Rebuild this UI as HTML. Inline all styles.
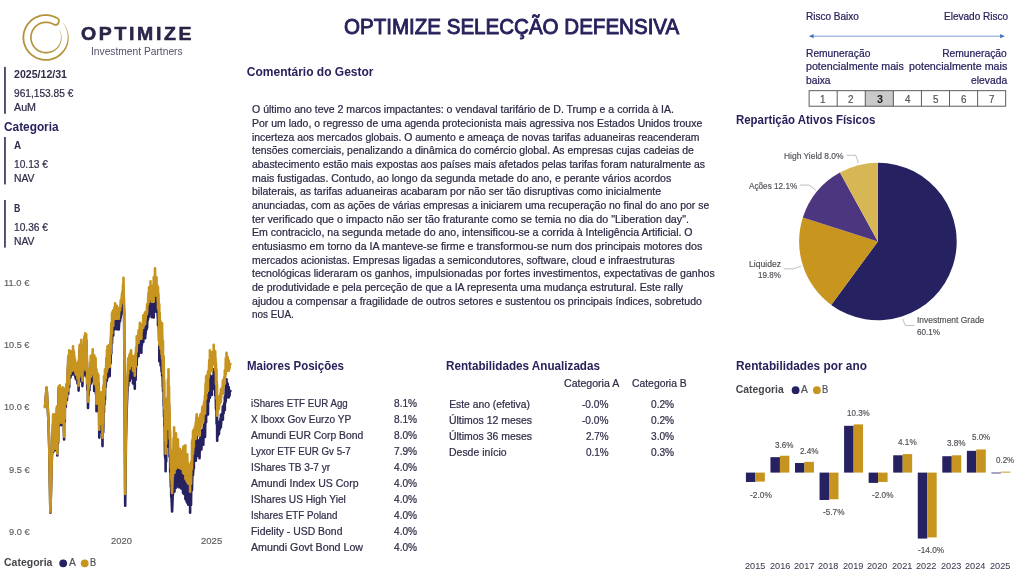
<!DOCTYPE html>
<html lang="pt">
<head>
<meta charset="utf-8">
<title>OPTIMIZE SELECÇÃO DEFENSIVA</title>
<style>
html,body{margin:0;padding:0;background:#fff;}
body{width:1024px;height:584px;position:relative;overflow:hidden;font-family:"Liberation Sans", sans-serif;}
.t{position:absolute;white-space:pre;line-height:1;transform-origin:0 0;display:block;}
.grp{position:absolute;left:0;top:0;width:1024px;height:584px;will-change:transform;}
.abs{position:absolute;}
svg{position:absolute;left:0;top:0;overflow:visible;}
</style>
</head>
<body>
<svg width="1024" height="584" viewBox="0 0 1024 584">
<g id="logo-mark"><path d="M56.74,16.93 L55.37,16.26 L53.96,15.67 L52.51,15.19 L51.03,14.80 L49.53,14.50 L48.02,14.31 L46.50,14.21 L44.97,14.21 L43.45,14.32 L41.93,14.52 L40.44,14.83 L38.96,15.23 L37.52,15.72 L36.11,16.31 L34.74,16.99 L33.42,17.76 L32.16,18.61 L30.95,19.55 L29.80,20.56 L28.73,21.64 L27.73,22.79 L26.80,24.01 L25.96,25.28 L25.20,26.61 L24.53,27.98 L23.96,29.40 L23.47,30.84 L23.08,32.32 L22.79,33.82 L22.60,35.33 L22.51,36.86 L22.52,38.39 L22.62,39.91 L22.83,41.42 L23.14,42.92 L23.54,44.39 L24.04,45.83 L24.63,47.24 L25.32,48.61 L26.09,49.92 L26.94,51.19 L27.88,52.39 L28.90,53.54 L29.98,54.61 L31.14,55.61 L32.35,56.53 L33.63,57.37 L34.96,58.12 L36.33,58.79 L37.75,59.36 L39.20,59.84 L40.67,60.23 L42.17,60.52 L43.69,60.70 L45.21,60.79 L46.74,60.78 L48.26,60.67 L49.77,60.46 L51.27,60.15 L52.74,59.74 L54.18,59.24 L55.59,58.64 L56.95,57.96 L58.27,57.18 L59.53,56.32 L60.74,55.38 L61.87,54.37 L62.94,53.28 L63.92,52.11 L64.81,50.87 L65.62,49.58 L66.33,48.23 L66.96,46.85 L67.49,45.43 L67.93,43.99 L68.27,42.51 L68.52,41.03 L68.67,39.53 L68.71,38.02 L68.66,36.52 L68.51,35.03 L68.27,33.56 L67.93,32.10 L67.49,30.67 L66.96,29.28 L66.35,27.93 L65.65,26.62 L64.86,25.36 L64.00,24.16 L63.06,23.02 L62.86,23.18 L63.74,24.35 L64.53,25.57 L65.24,26.84 L65.86,28.15 L66.40,29.50 L66.84,30.88 L67.20,32.28 L67.46,33.70 L67.62,35.13 L67.70,36.57 L67.67,38.00 L67.56,39.43 L67.35,40.84 L67.05,42.24 L66.66,43.61 L66.18,44.95 L65.62,46.26 L64.97,47.52 L64.24,48.74 L63.43,49.90 L62.56,51.00 L61.62,52.06 L60.63,53.06 L59.58,54.00 L58.47,54.87 L57.31,55.66 L56.09,56.38 L54.83,57.01 L53.54,57.56 L52.21,58.02 L50.85,58.40 L49.47,58.68 L48.07,58.88 L46.67,58.98 L45.26,58.99 L43.85,58.91 L42.45,58.74 L41.07,58.47 L39.71,58.12 L38.37,57.67 L37.06,57.14 L35.79,56.53 L34.57,55.83 L33.39,55.06 L32.27,54.21 L31.20,53.29 L30.20,52.30 L29.27,51.24 L28.40,50.13 L27.61,48.96 L26.90,47.75 L26.27,46.49 L25.72,45.19 L25.26,43.86 L24.89,42.50 L24.61,41.12 L24.42,39.72 L24.32,38.32 L24.31,36.91 L24.39,35.50 L24.57,34.10 L24.84,32.72 L25.20,31.36 L25.64,30.02 L26.18,28.72 L26.79,27.45 L27.49,26.23 L28.27,25.05 L29.12,23.93 L30.05,22.87 L31.04,21.87 L32.10,20.93 L33.21,20.07 L34.38,19.28 L35.60,18.58 L36.86,17.95 L38.16,17.40 L39.49,16.95 L40.85,16.58 L42.23,16.30 L43.63,16.11 L45.03,16.01 L46.44,16.01 L47.85,16.10 L49.25,16.28 L50.63,16.55 L51.99,16.91 L53.33,17.36 L54.63,17.90 L55.89,18.52Z" fill="#B5933A"/><path d="M54.83,24.06 L53.94,23.53 L53.02,23.05 L52.08,22.63 L51.11,22.28 L50.11,21.99 L49.10,21.76 L48.08,21.60 L47.05,21.50 L46.02,21.48 L44.98,21.51 L43.95,21.62 L42.93,21.79 L41.93,22.03 L40.94,22.33 L39.97,22.69 L39.02,23.12 L38.11,23.61 L37.23,24.15 L36.39,24.75 L35.59,25.41 L34.83,26.11 L34.12,26.86 L33.45,27.66 L32.85,28.49 L32.29,29.37 L31.80,30.27 L31.36,31.21 L30.98,32.18 L30.67,33.16 L30.43,34.17 L30.24,35.19 L30.13,36.21 L30.08,37.25 L30.09,38.28 L30.18,39.31 L30.33,40.34 L30.54,41.35 L30.83,42.35 L31.17,43.32 L31.58,44.27 L32.04,45.20 L32.57,46.09 L33.15,46.94 L33.79,47.76 L34.48,48.53 L35.21,49.26 L35.99,49.94 L36.82,50.56 L37.68,51.13 L38.58,51.65 L39.51,52.11 L40.46,52.50 L41.44,52.83 L42.44,53.10 L43.46,53.31 L44.48,53.44 L45.51,53.51 L46.55,53.52 L47.58,53.46 L48.60,53.31 L49.61,53.10 L50.61,52.82 L51.58,52.47 L52.52,52.07 L53.44,51.60 L54.32,51.08 L55.17,50.50 L55.97,49.87 L56.74,49.19 L57.45,48.46 L58.12,47.69 L58.73,46.88 L59.29,46.04 L59.80,45.16 L60.24,44.25 L60.63,43.31 L60.95,42.35 L61.21,41.38 L61.41,40.39 L61.54,39.40 L61.61,38.39 L61.61,37.39 L61.55,36.39 L61.42,35.40 L61.23,34.42 L60.98,33.46 L60.66,32.51 L60.29,31.59 L59.86,30.70 L59.37,29.84 L59.16,29.96 L59.59,30.83 L59.98,31.72 L60.30,32.64 L60.56,33.57 L60.76,34.52 L60.90,35.47 L60.98,36.43 L60.99,37.40 L60.94,38.36 L60.84,39.31 L60.67,40.25 L60.44,41.18 L60.15,42.09 L59.80,42.98 L59.40,43.84 L58.94,44.68 L58.43,45.48 L57.87,46.24 L57.27,46.97 L56.61,47.65 L55.92,48.29 L55.19,48.89 L54.42,49.43 L53.62,49.93 L52.80,50.36 L51.94,50.75 L51.07,51.08 L50.18,51.35 L49.27,51.56 L48.35,51.71 L47.43,51.81 L46.50,51.87 L45.57,51.87 L44.65,51.80 L43.73,51.68 L42.82,51.50 L41.92,51.25 L41.04,50.96 L40.18,50.60 L39.35,50.19 L38.55,49.73 L37.77,49.22 L37.03,48.66 L36.33,48.05 L35.67,47.40 L35.06,46.70 L34.49,45.97 L33.96,45.20 L33.49,44.40 L33.07,43.58 L32.71,42.72 L32.40,41.85 L32.15,40.95 L31.95,40.05 L31.82,39.13 L31.74,38.20 L31.73,37.27 L31.77,36.35 L31.88,35.42 L32.04,34.51 L32.26,33.61 L32.54,32.73 L32.88,31.86 L33.27,31.02 L33.71,30.20 L34.21,29.42 L34.76,28.67 L35.35,27.96 L35.99,27.28 L36.67,26.65 L37.39,26.07 L38.14,25.53 L38.93,25.04 L39.75,24.60 L40.60,24.22 L41.47,23.89 L42.36,23.62 L43.26,23.41 L44.17,23.25 L45.10,23.16 L46.02,23.13 L46.95,23.15 L47.88,23.24 L48.79,23.38 L49.70,23.58 L50.59,23.84 L51.46,24.16 L52.31,24.54 L53.13,24.96 L53.93,25.44Z" fill="#B5933A"/><path d="M56.32,17.72 A3.65,3.65 0 0 1 54.38,24.75" fill="none" stroke="#B5933A" stroke-width="1.75" stroke-linecap="round"/></g>
<rect x="4.1" y="66.9" width="1.7" height="46.9" fill="#3A3958"/>
<rect x="4.1" y="137.0" width="1.7" height="47.4" fill="#3A3958"/>
<rect x="4.1" y="200.0" width="1.7" height="47.6" fill="#3A3958"/>
<g fill="none" stroke-linejoin="round" stroke-linecap="round" stroke-width="2.6"><path d="M45.00,407.0 L45.62,399.5 L46.24,392.1 L46.60,387.7 L46.86,392.3 L47.48,403.3 L47.60,405.4 L48.10,414.8 L48.40,420.5 L48.72,430.5 L49.20,445.6 L49.34,453.8 L49.80,480.7 L49.96,489.3 L50.40,512.8 L50.58,506.2 L51.00,490.9 L51.20,482.6 L51.60,466.0 L51.82,459.2 L52.30,446.8 L52.30,442.4 L52.44,444.2 L53.06,423.7 L53.20,451.9 L53.20,415.5 L53.68,448.9 L54.30,417.0 L54.92,439.5 L55.00,415.8 L55.00,450.2 L55.54,420.4 L56.16,447.9 L56.40,448.4 L56.78,416.2 L57.00,408.0 L57.30,455.5 L57.40,409.6 L58.02,443.2 L58.20,440.6 L58.64,390.7 L58.80,388.3 L59.00,425.7 L59.26,397.4 L59.80,387.5 L59.88,413.1 L60.50,421.0 L60.70,395.6 L61.12,414.6 L61.50,425.1 L61.70,399.7 L61.74,413.3 L62.30,411.2 L62.36,394.3 L62.60,389.9 L62.98,414.3 L63.00,416.3 L63.50,391.0 L63.60,416.7 L64.10,439.5 L64.22,402.3 L64.40,396.1 L64.80,421.6 L64.84,400.2 L65.40,394.3 L65.46,407.3 L65.80,406.7 L66.08,391.7 L66.30,387.4 L66.70,395.1 L67.00,399.9 L67.30,379.5 L67.32,391.1 L67.94,367.3 L68.20,394.1 L68.20,359.7 L68.56,387.3 L69.18,358.2 L69.20,387.2 L69.20,353.8 L69.80,374.9 L70.42,358.8 L70.50,377.4 L71.00,355.1 L71.04,371.7 L71.66,355.5 L72.00,374.6 L72.28,357.3 L72.90,370.3 L73.00,350.4 L73.50,371.9 L73.52,354.9 L74.00,356.5 L74.14,371.1 L74.50,375.0 L74.76,364.1 L75.00,363.7 L75.38,376.8 L76.00,379.2 L76.62,370.6 L76.70,367.9 L77.24,378.3 L77.50,383.4 L77.86,372.4 L78.48,381.5 L78.50,366.2 L78.60,390.6 L79.10,360.3 L79.50,381.7 L79.50,350.3 L79.72,378.4 L80.34,349.5 L80.96,373.1 L81.00,379.9 L81.40,345.1 L81.58,368.5 L82.20,356.8 L82.40,386.1 L82.82,359.7 L83.30,376.3 L83.30,355.9 L83.44,372.4 L84.06,354.0 L84.40,342.0 L84.68,365.6 L85.00,374.5 L85.20,339.2 L85.30,370.6 L85.92,346.4 L86.20,340.3 L86.50,376.7 L86.54,355.6 L87.00,365.4 L87.16,382.9 L87.30,389.9 L87.78,377.7 L88.00,408.0 L88.40,380.5 L88.70,395.1 L89.00,375.7 L89.02,389.4 L89.50,390.2 L89.64,374.7 L90.26,379.1 L90.80,362.5 L90.88,381.3 L91.00,383.4 L91.50,364.5 L92.12,380.9 L92.70,356.2 L92.70,379.6 L92.74,362.2 L93.36,377.3 L93.98,364.8 L94.20,390.9 L94.20,362.5 L94.60,384.2 L95.00,384.0 L95.22,364.9 L95.60,365.7 L95.84,387.4 L96.00,394.1 L96.46,378.0 L96.50,411.2 L96.50,376.8 L97.08,395.1 L97.30,401.3 L97.70,381.2 L98.32,405.6 L98.40,383.1 L98.40,408.5 L98.94,395.2 L99.30,437.6 L99.30,401.2 L99.56,422.5 L100.00,421.7 L100.18,403.5 L100.80,427.1 L101.20,400.5 L101.20,431.9 L101.42,402.2 L102.04,432.9 L102.20,404.6 L102.50,446.1 L102.66,407.5 L103.20,432.2 L103.20,395.8 L103.28,428.5 L103.90,393.3 L104.00,412.3 L104.00,384.9 L104.52,404.3 L105.00,378.0 L105.00,399.4 L105.14,378.4 L105.76,386.9 L106.38,366.7 L106.90,380.7 L106.90,359.3 L107.00,379.3 L107.50,355.4 L107.62,377.6 L108.24,355.8 L108.70,374.0 L108.70,354.6 L108.86,367.9 L109.48,357.0 L109.60,355.7 L109.70,376.1 L110.10,353.5 L110.60,363.3 L110.60,348.9 L110.72,358.4 L111.30,333.0 L111.30,353.4 L111.34,336.0 L111.96,338.0 L112.00,323.1 L112.00,343.5 L112.58,321.7 L113.20,335.6 L113.20,320.2 L113.82,329.9 L114.44,317.6 L115.06,326.4 L115.10,313.5 L115.10,328.9 L115.68,318.6 L116.30,327.4 L116.90,316.3 L116.90,329.2 L116.92,318.3 L117.54,327.4 L118.16,320.4 L118.78,325.5 L118.80,319.0 L118.80,329.4 L119.40,319.1 L120.02,321.2 L120.64,313.3 L120.70,317.7 L120.70,311.3 L121.26,315.0 L121.88,306.1 L122.20,311.9 L122.20,303.5 L122.50,308.8 L123.00,296.7 L123.00,310.1 L123.12,295.3 L123.50,300.1 L123.50,289.2 L123.74,305.1 L124.10,312.8 L124.10,315.2 L124.36,354.4 L124.60,391.6 L124.98,463.8 L125.20,505.7 L125.60,469.2 L125.90,441.8 L126.22,428.1 L126.60,411.9 L126.84,405.7 L127.30,394.7 L127.30,393.3 L127.46,391.6 L128.08,373.5 L128.20,385.8 L128.20,370.4 L128.70,379.1 L129.32,368.0 L129.70,381.0 L129.70,366.6 L129.94,376.8 L130.56,364.4 L131.10,378.2 L131.10,362.8 L131.18,377.7 L131.80,367.9 L132.42,376.9 L133.00,369.1 L133.00,383.5 L133.04,370.2 L133.66,381.2 L134.28,371.3 L134.80,388.8 L134.80,369.4 L134.90,380.9 L135.52,366.7 L135.60,379.9 L136.14,360.6 L136.70,365.1 L136.70,349.7 L136.76,361.5 L137.38,349.7 L138.00,354.2 L138.60,343.9 L138.60,356.3 L138.62,344.2 L139.24,350.7 L139.86,338.1 L139.90,352.5 L139.90,336.6 L140.48,351.6 L141.10,340.2 L141.40,352.7 L141.40,340.3 L141.72,346.1 L142.34,338.6 L142.96,341.6 L143.30,329.6 L143.30,342.0 L143.58,329.8 L144.20,338.1 L144.82,327.5 L145.20,338.3 L145.20,326.9 L145.44,334.9 L146.06,326.3 L146.68,329.4 L147.10,319.2 L147.10,327.6 L147.30,319.3 L147.92,319.7 L148.54,307.9 L149.00,316.8 L149.00,302.4 L149.16,311.6 L149.78,303.1 L150.40,311.0 L150.50,296.7 L150.50,314.1 L151.02,302.9 L151.64,312.9 L151.80,302.9 L151.80,317.3 L152.26,301.6 L152.88,315.9 L153.50,301.1 L153.70,317.5 L153.70,293.1 L154.12,312.0 L154.74,291.2 L155.00,304.7 L155.00,284.3 L155.36,305.0 L155.98,294.6 L156.50,311.9 L156.50,293.5 L156.60,307.1 L157.22,301.5 L157.84,318.3 L158.00,303.8 L158.00,325.2 L158.46,310.1 L159.08,340.8 L159.30,320.9 L159.30,361.3 L159.70,329.3 L160.32,355.7 L160.60,338.1 L160.60,365.5 L160.94,344.7 L161.56,371.5 L162.10,340.4 L162.10,375.8 L162.18,346.7 L162.80,386.7 L163.00,358.5 L163.00,390.9 L163.42,377.1 L163.70,406.0 L163.70,373.6 L164.04,416.8 L164.30,398.7 L164.30,426.1 L164.66,421.7 L165.00,456.2 L165.00,438.8 L165.28,458.5 L165.60,458.9 L165.60,471.3 L165.90,443.1 L166.20,461.4 L166.20,424.0 L166.52,445.8 L167.14,420.0 L167.30,446.5 L167.30,417.1 L167.76,426.8 L167.90,397.2 L167.90,426.6 L168.38,397.2 L168.50,416.7 L168.50,387.3 L169.00,436.8 L169.00,404.4 L169.60,456.8 L169.60,429.4 L169.62,455.6 L170.20,449.5 L170.20,471.9 L170.24,454.2 L170.86,486.6 L171.20,487.7 L171.20,497.1 L171.48,496.9 L172.10,511.5 L172.72,494.5 L172.90,479.9 L172.90,495.3 L173.34,468.9 L173.50,491.4 L173.50,457.0 L173.96,489.9 L174.10,446.1 L174.50,491.6 L174.58,457.9 L175.20,485.8 L175.82,457.0 L176.00,487.8 L176.00,452.4 L176.44,476.6 L177.06,463.4 L177.68,479.5 L177.90,458.7 L178.30,485.2 L178.80,487.2 L178.92,470.7 L179.54,482.7 L179.80,468.4 L180.16,483.5 L180.78,475.3 L181.00,488.5 L181.40,475.1 L181.70,471.7 L182.02,484.1 L182.64,469.9 L183.00,492.8 L183.26,468.4 L183.50,466.5 L183.88,494.0 L184.50,473.5 L185.12,487.3 L185.40,465.7 L185.40,499.1 L185.74,475.4 L186.36,500.8 L186.98,479.2 L187.00,502.4 L187.30,475.0 L187.60,496.5 L188.20,504.6 L188.22,484.1 L188.84,499.0 L189.20,485.3 L189.46,501.7 L190.08,501.7 L190.10,512.8 L190.10,497.4 L190.70,505.2 L191.00,487.6 L191.00,505.0 L191.32,482.9 L191.94,490.3 L192.00,462.7 L192.00,490.1 L192.56,460.4 L193.00,475.3 L193.00,452.9 L193.18,472.8 L193.80,455.6 L193.90,468.4 L193.90,451.0 L194.42,460.9 L195.04,448.2 L195.66,456.6 L195.80,444.3 L195.80,460.7 L196.28,441.5 L196.70,436.4 L196.90,454.5 L197.52,440.0 L197.70,455.9 L198.14,442.4 L198.60,441.7 L198.76,451.7 L199.38,444.7 L199.50,458.2 L200.00,440.1 L200.50,436.9 L200.62,449.5 L201.24,436.9 L201.40,449.5 L201.86,436.3 L202.40,429.7 L202.48,442.8 L203.10,432.6 L203.30,444.8 L203.72,428.6 L204.30,424.5 L204.34,437.0 L204.96,418.8 L205.00,437.0 L205.58,407.0 L206.10,422.2 L206.10,399.8 L206.20,416.8 L206.82,399.1 L207.44,408.6 L208.00,395.0 L208.00,414.4 L208.06,399.1 L208.68,401.6 L209.30,384.0 L209.90,397.7 L209.90,374.3 L209.92,395.1 L210.54,378.7 L211.16,390.5 L211.78,379.4 L211.80,395.0 L211.80,376.6 L212.40,389.6 L213.02,376.4 L213.64,381.7 L213.70,369.4 L213.70,388.3 L214.26,375.1 L214.88,388.1 L215.20,376.1 L215.20,395.5 L215.50,382.3 L216.00,408.6 L216.00,388.2 L216.12,409.6 L216.50,394.3 L216.60,423.7 L216.74,406.3 L217.00,411.3 L217.20,440.8 L217.20,426.4 L217.36,436.9 L217.80,421.5 L217.80,435.9 L217.98,424.9 L218.60,434.2 L219.00,423.6 L219.00,434.0 L219.22,424.0 L219.84,429.3 L220.46,418.7 L220.90,427.3 L220.90,414.9 L221.08,424.2 L221.70,414.1 L222.32,419.0 L222.90,406.2 L222.90,419.6 L222.94,408.1 L223.56,413.4 L224.18,403.4 L224.80,409.9 L224.80,396.5 L225.42,402.6 L225.80,384.6 L225.80,401.0 L226.04,387.0 L226.50,395.1 L226.50,379.2 L226.66,395.1 L227.28,383.4 L227.70,397.3 L227.70,383.9 L227.90,395.1 L228.52,389.6 L228.70,397.5 L228.70,387.1 L229.14,396.0 L229.50,391.2 L229.50,395.6 L229.76,391.6 L230.38,391.1 L230.40,391.0" stroke="#262160"/><path d="M45.00,407.0 L45.62,399.4 L46.24,391.9 L46.60,387.5 L46.86,392.0 L47.48,402.9 L47.60,405.0 L48.10,414.4 L48.40,420.0 L48.72,430.0 L49.20,445.0 L49.34,453.2 L49.80,480.0 L49.96,488.5 L50.40,512.0 L50.58,505.4 L51.00,490.0 L51.20,481.7 L51.60,465.0 L51.82,458.2 L52.30,445.7 L52.30,441.3 L52.44,443.1 L53.06,422.5 L53.20,450.7 L53.20,414.3 L53.68,447.7 L54.30,415.6 L54.92,438.1 L55.00,414.3 L55.00,448.7 L55.54,418.9 L56.16,446.3 L56.40,446.7 L56.78,414.5 L57.00,406.3 L57.30,453.7 L57.40,407.8 L58.02,441.3 L58.20,438.7 L58.64,388.7 L58.80,386.3 L59.00,423.7 L59.26,395.4 L59.80,385.3 L59.88,410.9 L60.50,418.7 L60.70,393.3 L61.12,412.2 L61.50,422.7 L61.70,397.3 L61.74,410.9 L62.30,408.7 L62.36,391.7 L62.60,387.3 L62.98,411.7 L63.00,413.7 L63.50,388.3 L63.60,414.0 L64.10,436.7 L64.22,399.5 L64.40,393.3 L64.80,418.7 L64.84,397.3 L65.40,391.3 L65.46,404.3 L65.80,403.7 L66.08,388.6 L66.30,384.3 L66.70,391.9 L67.00,396.7 L67.30,376.3 L67.32,387.9 L67.94,363.9 L68.20,390.7 L68.20,356.3 L68.56,383.8 L69.18,354.7 L69.20,383.7 L69.20,350.3 L69.80,371.3 L70.42,355.1 L70.50,373.7 L71.00,351.3 L71.04,367.9 L71.66,351.6 L72.00,370.7 L72.28,353.4 L72.90,366.2 L73.00,346.3 L73.50,367.7 L73.52,350.8 L74.00,352.3 L74.14,366.8 L74.50,370.7 L74.76,359.8 L75.00,359.3 L75.38,372.4 L76.00,374.7 L76.62,366.0 L76.70,363.3 L77.24,373.6 L77.50,378.7 L77.86,367.6 L78.48,376.6 L78.50,361.3 L78.60,385.7 L79.10,355.3 L79.50,376.7 L79.50,345.3 L79.72,373.3 L80.34,344.4 L80.96,367.9 L81.00,374.7 L81.40,339.8 L81.58,363.2 L82.20,351.4 L82.40,380.7 L82.82,354.2 L83.30,370.7 L83.30,350.3 L83.44,366.8 L84.06,348.3 L84.40,336.3 L84.68,359.8 L85.00,368.7 L85.20,333.3 L85.30,364.7 L85.92,340.4 L86.20,334.3 L86.50,370.7 L86.54,349.5 L87.00,359.3 L87.16,376.8 L87.30,383.7 L87.78,371.5 L88.00,401.7 L88.40,374.2 L88.70,388.7 L89.00,369.3 L89.02,383.0 L89.50,383.7 L89.64,368.2 L90.26,372.5 L90.80,355.8 L90.88,374.7 L91.00,376.7 L91.50,357.7 L92.12,374.0 L92.70,349.3 L92.70,372.7 L92.74,355.3 L93.36,370.2 L93.98,357.6 L94.20,383.7 L94.20,355.3 L94.60,377.0 L95.00,376.7 L95.22,357.6 L95.60,358.3 L95.84,380.0 L96.00,386.7 L96.46,370.5 L96.50,403.7 L96.50,369.3 L97.08,387.5 L97.30,393.7 L97.70,373.5 L98.32,397.9 L98.40,375.3 L98.40,400.7 L98.94,387.3 L99.30,429.7 L99.30,393.3 L99.56,414.5 L100.00,413.7 L100.18,395.5 L100.80,418.9 L101.20,392.3 L101.20,423.7 L101.42,394.0 L102.04,424.6 L102.20,396.3 L102.50,437.7 L102.66,399.1 L103.20,423.7 L103.20,387.3 L103.28,420.0 L103.90,384.7 L104.00,403.7 L104.00,376.3 L104.52,395.6 L105.00,369.3 L105.00,390.7 L105.14,369.7 L105.76,378.1 L106.38,357.8 L106.90,371.7 L106.90,350.3 L107.00,370.3 L107.50,346.3 L107.62,368.5 L108.24,346.6 L108.70,364.7 L108.70,345.3 L108.86,358.6 L109.48,347.6 L109.60,346.3 L109.70,366.7 L110.10,344.1 L110.60,353.7 L110.60,339.3 L110.72,348.8 L111.30,323.3 L111.30,343.7 L111.34,326.3 L111.96,328.3 L112.00,313.3 L112.00,333.7 L112.58,311.9 L113.20,325.7 L113.20,310.3 L113.82,319.8 L114.44,307.4 L115.06,316.2 L115.10,303.3 L115.10,318.7 L115.68,308.3 L116.30,317.0 L116.90,305.8 L116.90,318.7 L116.92,307.8 L117.54,316.9 L118.16,309.7 L118.78,314.8 L118.80,308.3 L118.80,318.7 L119.40,308.2 L120.02,310.3 L120.64,302.3 L120.70,306.7 L120.70,300.3 L121.26,303.9 L121.88,294.9 L122.20,300.7 L122.20,292.3 L122.50,297.5 L123.00,285.3 L123.00,298.7 L123.12,283.9 L123.50,288.7 L123.50,277.8 L123.74,293.6 L124.10,301.3 L124.10,303.7 L124.36,342.8 L124.60,380.0 L124.98,452.2 L125.20,494.0 L125.60,457.4 L125.90,430.0 L126.22,416.3 L126.60,400.0 L126.84,393.8 L127.30,382.7 L127.30,381.3 L127.46,379.6 L128.08,361.4 L128.20,373.7 L128.20,358.3 L128.70,366.9 L129.32,355.8 L129.70,368.7 L129.70,354.3 L129.94,364.5 L130.56,352.0 L131.10,365.7 L131.10,350.3 L131.18,365.1 L131.80,355.3 L132.42,364.2 L133.00,356.3 L133.00,370.7 L133.04,357.4 L133.66,368.3 L134.28,358.3 L134.80,375.7 L134.80,356.3 L134.90,367.8 L135.52,353.5 L135.60,366.7 L136.14,347.3 L136.70,351.7 L136.70,336.3 L136.76,348.1 L137.38,336.2 L138.00,340.7 L138.60,330.3 L138.60,342.7 L138.62,330.6 L139.24,337.0 L139.86,324.3 L139.90,338.7 L139.90,322.8 L140.48,337.7 L141.10,326.2 L141.40,338.7 L141.40,326.3 L141.72,332.0 L142.34,324.4 L142.96,327.3 L143.30,315.3 L143.30,327.7 L143.58,315.4 L144.20,323.6 L144.82,313.0 L145.20,323.7 L145.20,312.3 L145.44,320.2 L146.06,311.6 L146.68,314.6 L147.10,304.3 L147.10,312.7 L147.30,304.4 L147.92,304.7 L148.54,292.8 L149.00,301.7 L149.00,287.3 L149.16,296.5 L149.78,287.9 L150.40,295.7 L150.50,281.3 L150.50,298.7 L151.02,287.5 L151.64,297.4 L151.80,287.3 L151.80,301.7 L152.26,286.0 L152.88,300.2 L153.50,285.3 L153.70,301.7 L153.70,277.3 L154.12,296.1 L154.74,275.2 L155.00,288.7 L155.00,268.3 L155.36,288.9 L155.98,278.4 L156.50,295.7 L156.50,277.3 L156.60,290.8 L157.22,285.2 L157.84,301.9 L158.00,287.3 L158.00,308.7 L158.46,293.6 L159.08,324.1 L159.30,304.3 L159.30,344.7 L159.70,312.6 L160.32,338.9 L160.60,321.3 L160.60,348.7 L160.94,327.8 L161.56,354.5 L162.10,323.3 L162.10,358.7 L162.18,329.6 L162.80,369.5 L163.00,341.3 L163.00,373.7 L163.42,359.9 L163.70,388.7 L163.70,356.3 L164.04,399.5 L164.30,381.3 L164.30,408.7 L164.66,404.3 L165.00,438.7 L165.00,421.3 L165.28,441.0 L165.60,441.3 L165.60,453.7 L165.90,425.5 L166.20,443.7 L166.20,406.3 L166.52,428.1 L167.14,402.2 L167.30,428.7 L167.30,399.3 L167.76,408.9 L167.90,379.3 L167.90,408.7 L168.38,379.2 L168.50,398.7 L168.50,369.3 L169.00,418.7 L169.00,386.3 L169.60,438.7 L169.60,411.3 L169.62,437.5 L170.20,431.3 L170.20,453.7 L170.24,436.0 L170.86,468.3 L171.20,469.3 L171.20,478.7 L171.48,478.4 L172.10,493.0 L172.72,475.9 L172.90,461.3 L172.90,476.7 L173.34,450.2 L173.50,472.7 L173.50,438.3 L173.96,471.2 L174.10,427.3 L174.50,472.7 L174.58,439.1 L175.20,466.8 L175.82,438.0 L176.00,468.7 L176.00,433.3 L176.44,457.4 L177.06,444.1 L177.68,460.2 L177.90,439.3 L178.30,465.8 L178.80,467.7 L178.92,451.2 L179.54,463.1 L179.80,448.8 L180.16,463.8 L180.78,455.5 L181.00,468.7 L181.40,455.3 L181.70,451.8 L182.02,464.1 L182.64,449.8 L183.00,472.7 L183.26,448.2 L183.50,446.3 L183.88,473.8 L184.50,453.2 L185.12,466.9 L185.40,445.3 L185.40,478.7 L185.74,455.0 L186.36,480.3 L186.98,458.5 L187.00,481.7 L187.30,454.3 L187.60,475.7 L188.20,483.7 L188.22,463.2 L188.84,478.1 L189.20,464.3 L189.46,480.6 L190.08,480.6 L190.10,491.7 L190.10,476.3 L190.70,484.0 L191.00,466.3 L191.00,483.7 L191.32,461.6 L191.94,468.9 L192.00,441.3 L192.00,468.7 L192.56,438.9 L193.00,453.7 L193.00,431.3 L193.18,451.2 L193.80,434.0 L193.90,446.7 L193.90,429.3 L194.42,439.1 L195.04,426.4 L195.66,434.6 L195.80,422.3 L195.80,438.7 L196.28,419.4 L196.70,414.3 L196.90,432.3 L197.52,417.8 L197.70,433.7 L198.14,420.1 L198.60,419.3 L198.76,429.3 L199.38,422.2 L199.50,435.7 L200.00,417.5 L200.50,414.3 L200.62,426.8 L201.24,414.2 L201.40,426.7 L201.86,413.4 L202.40,406.8 L202.48,419.9 L203.10,409.6 L203.30,421.7 L203.72,405.5 L204.30,401.3 L204.34,413.8 L204.96,395.5 L205.00,413.7 L205.58,383.6 L206.10,398.7 L206.10,376.3 L206.20,393.3 L206.82,375.6 L207.44,385.0 L208.00,371.3 L208.00,390.7 L208.06,375.3 L208.68,377.7 L209.30,360.1 L209.90,373.7 L209.90,350.3 L209.92,371.1 L210.54,354.6 L211.16,366.3 L211.78,355.1 L211.80,370.7 L211.80,352.3 L212.40,365.2 L213.02,351.9 L213.64,357.2 L213.70,344.8 L213.70,363.7 L214.26,350.4 L214.88,363.4 L215.20,351.3 L215.20,370.7 L215.50,357.4 L216.00,383.7 L216.00,363.3 L216.12,384.7 L216.50,369.3 L216.60,398.7 L216.74,381.3 L217.00,386.3 L217.20,415.7 L217.20,401.3 L217.36,411.8 L217.80,396.3 L217.80,410.7 L217.98,399.7 L218.60,409.0 L219.00,398.3 L219.00,408.7 L219.22,398.7 L219.84,403.9 L220.46,393.2 L220.90,401.7 L220.90,389.3 L221.08,398.5 L221.70,388.4 L222.32,393.1 L222.90,380.3 L222.90,393.7 L222.94,382.2 L223.56,387.4 L224.18,377.3 L224.80,383.7 L224.80,370.3 L225.42,376.3 L225.80,358.3 L225.80,374.7 L226.04,360.7 L226.50,368.7 L226.50,352.8 L226.66,368.6 L227.28,356.8 L227.70,370.7 L227.70,357.3 L227.90,368.4 L228.52,362.9 L228.70,370.7 L228.70,360.3 L229.14,369.1 L229.50,364.3 L229.50,368.7 L229.76,364.7 L230.38,364.1 L230.40,364.0" stroke="#C7951F"/></g>
<circle cx="63.2" cy="563.3" r="3.9" fill="#262160"/><circle cx="84.7" cy="563.3" r="3.9" fill="#C7951F"/>
<g id="risk-arrow"><line x1="812" y1="36.2" x2="1001.5" y2="36.2" stroke="#4472C4" stroke-width="0.7"/><path d="M808.9,36.2 L813.6,34.1 L813.6,38.3 Z" fill="#4472C4"/><path d="M1004.8,36.2 L1000.1,34.1 L1000.1,38.3 Z" fill="#4472C4"/></g>
<rect x="865.27" y="90.7" width="28.09" height="15.50" fill="#C9C9C9"/>
<rect x="809.1" y="90.7" width="196.60" height="15.50" fill="none" stroke="#4A4A4A" stroke-width="0.9"/>
<line x1="837.19" y1="90.7" x2="837.19" y2="106.2" stroke="#4A4A4A" stroke-width="0.9"/>
<line x1="865.27" y1="90.7" x2="865.27" y2="106.2" stroke="#4A4A4A" stroke-width="0.9"/>
<line x1="893.36" y1="90.7" x2="893.36" y2="106.2" stroke="#4A4A4A" stroke-width="0.9"/>
<line x1="921.44" y1="90.7" x2="921.44" y2="106.2" stroke="#4A4A4A" stroke-width="0.9"/>
<line x1="949.53" y1="90.7" x2="949.53" y2="106.2" stroke="#4A4A4A" stroke-width="0.9"/>
<line x1="977.61" y1="90.7" x2="977.61" y2="106.2" stroke="#4A4A4A" stroke-width="0.9"/>
<path d="M877.9,241.5 L877.90,162.70 A78.8,78.8 0 1 1 831.18,304.96 Z" fill="#262261"/>
<path d="M877.9,241.5 L831.18,304.96 A78.8,78.8 0 0 1 802.81,217.62 Z" fill="#C8951E"/>
<path d="M877.9,241.5 L802.81,217.62 A78.8,78.8 0 0 1 839.94,172.45 Z" fill="#4B367F"/>
<path d="M877.9,241.5 L839.94,172.45 A78.8,78.8 0 0 1 877.90,162.70 Z" fill="#D7B655"/>
<g fill="none" stroke="#B3B0AD" stroke-width="0.8"><polyline points="846.7,155.3 855.7,155.3 858.4,163.1"/><polyline points="799.9,185.1 809.1,185.1 815.9,190.3"/><polyline points="784.0,268.8 793.3,268.8 801.2,266.1"/><polyline points="902.7,318.9 905.3,325.5 914.5,325.5"/></g>
<rect x="745.90" y="472.60" width="9.5" height="9.36" fill="#262160"/>
<rect x="755.35" y="472.60" width="9.5" height="8.99" fill="#C7951F"/>
<rect x="770.45" y="457.16" width="9.5" height="15.44" fill="#262160"/>
<rect x="779.90" y="455.75" width="9.5" height="16.85" fill="#C7951F"/>
<rect x="795.00" y="463.01" width="9.5" height="9.59" fill="#262160"/>
<rect x="804.45" y="461.84" width="9.5" height="10.76" fill="#C7951F"/>
<rect x="819.55" y="472.60" width="9.5" height="27.38" fill="#262160"/>
<rect x="829.00" y="472.60" width="9.5" height="26.68" fill="#C7951F"/>
<rect x="844.10" y="425.80" width="9.5" height="46.80" fill="#262160"/>
<rect x="853.55" y="424.40" width="9.5" height="48.20" fill="#C7951F"/>
<rect x="868.65" y="472.60" width="9.5" height="10.30" fill="#262160"/>
<rect x="878.10" y="472.60" width="9.5" height="9.36" fill="#C7951F"/>
<rect x="893.20" y="455.28" width="9.5" height="17.32" fill="#262160"/>
<rect x="902.65" y="454.11" width="9.5" height="18.49" fill="#C7951F"/>
<rect x="917.75" y="472.60" width="9.5" height="65.99" fill="#262160"/>
<rect x="927.20" y="472.60" width="9.5" height="64.82" fill="#C7951F"/>
<rect x="942.30" y="456.22" width="9.5" height="16.38" fill="#262160"/>
<rect x="951.75" y="455.28" width="9.5" height="17.32" fill="#C7951F"/>
<rect x="966.85" y="450.84" width="9.5" height="21.76" fill="#262160"/>
<rect x="976.30" y="449.43" width="9.5" height="23.17" fill="#C7951F"/>
<rect x="991.40" y="472.60" width="9.5" height="0.80" fill="#262160"/>
<rect x="1000.85" y="471.66" width="9.5" height="0.94" fill="#C7951F"/>
<circle cx="795.6" cy="390.2" r="3.9" fill="#262160"/><circle cx="816.9" cy="390.2" r="3.9" fill="#C7951F"/>
</svg>
<div class="grp" id="logo">
<span class="t" style="left:80.63px;top:26.20px;font-size:17.6px;color:#2A2547;font-weight:700;letter-spacing:2.4px;-webkit-text-stroke:0.55px #2A2547;transform:scaleX(1.1059);">OPTIMIZE</span>
<span class="t" style="left:91.24px;top:46.81px;font-size:10.2px;color:#55536A;-webkit-text-stroke:0.01px #55536A;transform:scaleX(1.0049);">Investment Partners</span>
</div>
<div class="grp" id="title">
<span class="t" style="left:343.83px;top:17.30px;font-size:21.3px;color:#27225C;-webkit-text-stroke:0.9px #27225C;transform:scaleX(0.9646);">OPTIMIZE SELECÇÃO DEFENSIVA</span>
</div>
<div class="grp" id="cards">
<span class="t" style="left:13.65px;top:70.11px;font-size:10px;color:#302E49;font-weight:700;transform:scaleX(1.0587);">2025/12/31</span>
<span class="t" style="left:13.63px;top:88.71px;font-size:10.3px;color:#302E49;-webkit-text-stroke:0.22px #302E49;transform:scaleX(0.9868);">961,153.85 €</span>
<span class="t" style="left:13.63px;top:102.52px;font-size:10.3px;color:#302E49;-webkit-text-stroke:0.22px #302E49;transform:scaleX(1.0398);">AuM</span>
<span class="t" style="left:3.94px;top:120.91px;font-size:12px;color:#27225C;font-weight:700;transform:scaleX(0.9863);">Categoria</span>
<span class="t" style="left:13.75px;top:141.40px;font-size:10px;color:#302E49;font-weight:700;transform:scaleX(0.9952);">A</span>
<span class="t" style="left:13.73px;top:159.71px;font-size:10.3px;color:#302E49;-webkit-text-stroke:0.22px #302E49;transform:scaleX(0.9904);">10.13 €</span>
<span class="t" style="left:13.73px;top:174.21px;font-size:10.3px;color:#302E49;-webkit-text-stroke:0.22px #302E49;transform:scaleX(1.0053);">NAV</span>
<span class="t" style="left:13.75px;top:204.22px;font-size:10px;color:#302E49;font-weight:700;transform:scaleX(0.8708);">B</span>
<span class="t" style="left:13.73px;top:223.02px;font-size:10.3px;color:#302E49;-webkit-text-stroke:0.22px #302E49;transform:scaleX(0.9904);">10.36 €</span>
<span class="t" style="left:13.73px;top:237.30px;font-size:10.3px;color:#302E49;-webkit-text-stroke:0.22px #302E49;transform:scaleX(1.0053);">NAV</span>
</div>
<div class="grp" id="linechart">
<span class="t" style="left:4.46px;top:278.02px;font-size:9.8px;color:#605E5C;-webkit-text-stroke:0.18px #605E5C;transform:scaleX(0.9572);">11.0 €</span>
<span class="t" style="left:4.46px;top:340.21px;font-size:9.8px;color:#605E5C;-webkit-text-stroke:0.18px #605E5C;transform:scaleX(0.9314);">10.5 €</span>
<span class="t" style="left:4.46px;top:402.41px;font-size:9.8px;color:#605E5C;-webkit-text-stroke:0.18px #605E5C;transform:scaleX(0.9314);">10.0 €</span>
<span class="t" style="left:9.26px;top:464.61px;font-size:9.8px;color:#605E5C;-webkit-text-stroke:0.18px #605E5C;transform:scaleX(0.9442);">9.5 €</span>
<span class="t" style="left:9.26px;top:526.80px;font-size:9.8px;color:#605E5C;-webkit-text-stroke:0.18px #605E5C;transform:scaleX(0.9442);">9.0 €</span>
<span class="t" style="left:110.76px;top:536.11px;font-size:9.8px;color:#605E5C;-webkit-text-stroke:0.18px #605E5C;transform:scaleX(0.9579);">2020</span>
<span class="t" style="left:201.46px;top:536.11px;font-size:9.8px;color:#605E5C;-webkit-text-stroke:0.18px #605E5C;transform:scaleX(0.9717);">2025</span>
<span class="t" style="left:3.63px;top:558.40px;font-size:10.4px;color:#48464C;font-weight:700;transform:scaleX(1.0105);">Categoria</span>
<span class="t" style="left:68.53px;top:558.40px;font-size:10.4px;color:#525057;-webkit-text-stroke:0.22px #525057;transform:scaleX(0.9859);">A</span>
<span class="t" style="left:90.33px;top:558.40px;font-size:10.4px;color:#525057;-webkit-text-stroke:0.22px #525057;transform:scaleX(0.8850);">B</span>
</div>
<div class="grp" id="comment">
<span class="t" style="left:246.84px;top:65.82px;font-size:12px;color:#27225C;font-weight:700;">Comentário do Gestor</span>
<span class="t" style="left:252.24px;top:105.20px;font-size:10.2px;color:#2B2A45;-webkit-text-stroke:0.22px #2B2A45;transform:scaleX(1.0351);">O último ano teve 2 marcos impactantes: o vendaval tarifário de D. Trump e a corrida à IA.</span>
<span class="t" style="left:252.24px;top:118.88px;font-size:10.2px;color:#2B2A45;-webkit-text-stroke:0.22px #2B2A45;transform:scaleX(1.0272);">Por um lado, o regresso de uma agenda protecionista mais agressiva nos Estados Unidos trouxe</span>
<span class="t" style="left:252.24px;top:132.56px;font-size:10.2px;color:#2B2A45;-webkit-text-stroke:0.22px #2B2A45;transform:scaleX(1.0221);">incerteza aos mercados globais. O aumento e ameaça de novas tarifas aduaneiras reacenderam</span>
<span class="t" style="left:252.24px;top:146.24px;font-size:10.2px;color:#2B2A45;-webkit-text-stroke:0.22px #2B2A45;transform:scaleX(1.0241);">tensões comerciais, penalizando a dinâmica do comércio global. As empresas cujas cadeias de</span>
<span class="t" style="left:252.24px;top:159.92px;font-size:10.2px;color:#2B2A45;-webkit-text-stroke:0.22px #2B2A45;transform:scaleX(1.0230);">abastecimento estão mais expostas aos países mais afetados pelas tarifas foram naturalmente as</span>
<span class="t" style="left:252.24px;top:173.60px;font-size:10.2px;color:#2B2A45;-webkit-text-stroke:0.22px #2B2A45;transform:scaleX(1.0367);">mais fustigadas. Contudo, ao longo da segunda metade do ano, e perante vários acordos</span>
<span class="t" style="left:252.24px;top:187.29px;font-size:10.2px;color:#2B2A45;-webkit-text-stroke:0.22px #2B2A45;transform:scaleX(1.0319);">bilaterais, as tarifas aduaneiras acabaram por não ser tão disruptivas como inicialmente</span>
<span class="t" style="left:252.24px;top:200.96px;font-size:10.2px;color:#2B2A45;-webkit-text-stroke:0.22px #2B2A45;transform:scaleX(1.0220);">anunciadas, com as ações de várias empresas a iniciarem uma recuperação no final do ano por se</span>
<span class="t" style="left:252.24px;top:214.65px;font-size:10.2px;color:#2B2A45;-webkit-text-stroke:0.22px #2B2A45;transform:scaleX(1.0500);">ter verificado que o impacto não ser tão fraturante como se temia no dia do "Liberation day".</span>
<span class="t" style="left:252.24px;top:228.32px;font-size:10.2px;color:#2B2A45;-webkit-text-stroke:0.22px #2B2A45;transform:scaleX(1.0388);">Em contraciclo, na segunda metade do ano, intensificou-se a corrida à Inteligência Artificial. O</span>
<span class="t" style="left:252.24px;top:242.01px;font-size:10.2px;color:#2B2A45;-webkit-text-stroke:0.22px #2B2A45;transform:scaleX(1.0490);">entusiasmo em torno da IA manteve-se firme e transformou-se num dos principais motores dos</span>
<span class="t" style="left:252.24px;top:255.68px;font-size:10.2px;color:#2B2A45;-webkit-text-stroke:0.22px #2B2A45;transform:scaleX(1.0229);">mercados acionistas. Empresas ligadas a semicondutores, software, cloud e infraestruturas</span>
<span class="t" style="left:252.24px;top:269.37px;font-size:10.2px;color:#2B2A45;-webkit-text-stroke:0.22px #2B2A45;transform:scaleX(1.0369);">tecnológicas lideraram os ganhos, impulsionadas por fortes investimentos, expectativas de ganhos</span>
<span class="t" style="left:252.24px;top:283.04px;font-size:10.2px;color:#2B2A45;-webkit-text-stroke:0.22px #2B2A45;transform:scaleX(1.0343);">de produtividade e pela perceção de que a IA representa uma mudança estrutural. Este rally</span>
<span class="t" style="left:252.24px;top:296.73px;font-size:10.2px;color:#2B2A45;-webkit-text-stroke:0.22px #2B2A45;transform:scaleX(1.0385);">ajudou a compensar a fragilidade de outros setores e sustentou os principais índices, sobretudo</span>
<span class="t" style="left:252.24px;top:310.40px;font-size:10.2px;color:#2B2A45;-webkit-text-stroke:0.22px #2B2A45;transform:scaleX(0.9692);">nos EUA.</span>
</div>
<div class="grp" id="positions">
<span class="t" style="left:247.14px;top:359.60px;font-size:12px;color:#27225C;font-weight:700;transform:scaleX(0.9557);">Maiores Posições</span>
<span class="t" style="left:251.13px;top:399.02px;font-size:10.3px;color:#302E49;-webkit-text-stroke:0.22px #302E49;transform:scaleX(0.9443);">iShares ETF EUR Agg</span>
<span class="t" style="left:393.73px;top:399.02px;font-size:10.3px;color:#302E49;-webkit-text-stroke:0.22px #302E49;transform:scaleX(0.9849);">8.1%</span>
<span class="t" style="left:251.13px;top:415.02px;font-size:10.3px;color:#302E49;-webkit-text-stroke:0.22px #302E49;transform:scaleX(0.9801);">X Iboxx Gov Eurzo YP</span>
<span class="t" style="left:393.73px;top:415.02px;font-size:10.3px;color:#302E49;-webkit-text-stroke:0.22px #302E49;transform:scaleX(0.9849);">8.1%</span>
<span class="t" style="left:251.13px;top:431.02px;font-size:10.3px;color:#302E49;-webkit-text-stroke:0.22px #302E49;transform:scaleX(1.0065);">Amundi EUR Corp Bond</span>
<span class="t" style="left:393.73px;top:431.02px;font-size:10.3px;color:#302E49;-webkit-text-stroke:0.22px #302E49;transform:scaleX(0.9849);">8.0%</span>
<span class="t" style="left:251.13px;top:447.04px;font-size:10.3px;color:#302E49;-webkit-text-stroke:0.22px #302E49;transform:scaleX(0.9456);">Lyxor ETF EUR Gv 5-7</span>
<span class="t" style="left:393.73px;top:447.04px;font-size:10.3px;color:#302E49;-webkit-text-stroke:0.22px #302E49;transform:scaleX(0.9849);">7.9%</span>
<span class="t" style="left:251.13px;top:463.05px;font-size:10.3px;color:#302E49;-webkit-text-stroke:0.22px #302E49;transform:scaleX(0.9830);">IShares TB 3-7 yr</span>
<span class="t" style="left:393.73px;top:463.05px;font-size:10.3px;color:#302E49;-webkit-text-stroke:0.22px #302E49;transform:scaleX(0.9849);">4.0%</span>
<span class="t" style="left:251.13px;top:479.05px;font-size:10.3px;color:#302E49;-webkit-text-stroke:0.22px #302E49;transform:scaleX(1.0211);">Amundi Index US Corp</span>
<span class="t" style="left:393.73px;top:479.05px;font-size:10.3px;color:#302E49;-webkit-text-stroke:0.22px #302E49;transform:scaleX(0.9849);">4.0%</span>
<span class="t" style="left:251.13px;top:495.07px;font-size:10.3px;color:#302E49;-webkit-text-stroke:0.22px #302E49;transform:scaleX(0.9862);">IShares US High Yiel</span>
<span class="t" style="left:393.73px;top:495.07px;font-size:10.3px;color:#302E49;-webkit-text-stroke:0.22px #302E49;transform:scaleX(0.9849);">4.0%</span>
<span class="t" style="left:251.13px;top:511.08px;font-size:10.3px;color:#302E49;-webkit-text-stroke:0.22px #302E49;transform:scaleX(0.9498);">Ishares ETF Poland</span>
<span class="t" style="left:393.73px;top:511.08px;font-size:10.3px;color:#302E49;-webkit-text-stroke:0.22px #302E49;transform:scaleX(0.9849);">4.0%</span>
<span class="t" style="left:251.13px;top:527.08px;font-size:10.3px;color:#302E49;-webkit-text-stroke:0.22px #302E49;transform:scaleX(1.0111);">Fidelity - USD Bond</span>
<span class="t" style="left:393.73px;top:527.08px;font-size:10.3px;color:#302E49;-webkit-text-stroke:0.22px #302E49;transform:scaleX(0.9849);">4.0%</span>
<span class="t" style="left:251.13px;top:543.10px;font-size:10.3px;color:#302E49;-webkit-text-stroke:0.22px #302E49;transform:scaleX(1.0355);">Amundi Govt Bond Low</span>
<span class="t" style="left:393.73px;top:543.10px;font-size:10.3px;color:#302E49;-webkit-text-stroke:0.22px #302E49;transform:scaleX(0.9849);">4.0%</span>
</div>
<div class="grp" id="returns">
<span class="t" style="left:445.74px;top:360.10px;font-size:12px;color:#27225C;font-weight:700;transform:scaleX(0.9730);">Rentabilidades Anualizadas</span>
<span class="t" style="left:564.43px;top:378.71px;font-size:10.3px;color:#302E49;-webkit-text-stroke:0.22px #302E49;transform:scaleX(1.0263);">Categoria A</span>
<span class="t" style="left:631.73px;top:378.71px;font-size:10.3px;color:#302E49;-webkit-text-stroke:0.22px #302E49;transform:scaleX(1.0062);">Categoria B</span>
<span class="t" style="left:449.23px;top:400.02px;font-size:10.3px;color:#302E49;-webkit-text-stroke:0.22px #302E49;">Este ano (efetiva)</span>
<span class="t" style="left:581.93px;top:400.02px;font-size:10.3px;color:#302E49;-webkit-text-stroke:0.22px #302E49;transform:scaleX(0.9823);">-0.0%</span>
<span class="t" style="left:651.23px;top:400.02px;font-size:10.3px;color:#302E49;-webkit-text-stroke:0.22px #302E49;transform:scaleX(0.9849);">0.2%</span>
<span class="t" style="left:449.23px;top:415.97px;font-size:10.3px;color:#302E49;-webkit-text-stroke:0.22px #302E49;transform:scaleX(1.0147);">Últimos 12 meses</span>
<span class="t" style="left:581.93px;top:415.97px;font-size:10.3px;color:#302E49;-webkit-text-stroke:0.22px #302E49;transform:scaleX(0.9823);">-0.0%</span>
<span class="t" style="left:651.23px;top:415.97px;font-size:10.3px;color:#302E49;-webkit-text-stroke:0.22px #302E49;transform:scaleX(0.9849);">0.2%</span>
<span class="t" style="left:449.23px;top:431.94px;font-size:10.3px;color:#302E49;-webkit-text-stroke:0.22px #302E49;transform:scaleX(1.0147);">Últimos 36 meses</span>
<span class="t" style="left:585.63px;top:431.94px;font-size:10.3px;color:#302E49;-webkit-text-stroke:0.22px #302E49;transform:scaleX(0.9679);">2.7%</span>
<span class="t" style="left:651.23px;top:431.94px;font-size:10.3px;color:#302E49;-webkit-text-stroke:0.22px #302E49;transform:scaleX(0.9849);">3.0%</span>
<span class="t" style="left:449.23px;top:447.91px;font-size:10.3px;color:#302E49;-webkit-text-stroke:0.22px #302E49;transform:scaleX(1.0169);">Desde início</span>
<span class="t" style="left:585.63px;top:447.91px;font-size:10.3px;color:#302E49;-webkit-text-stroke:0.22px #302E49;transform:scaleX(0.9679);">0.1%</span>
<span class="t" style="left:651.23px;top:447.91px;font-size:10.3px;color:#302E49;-webkit-text-stroke:0.22px #302E49;transform:scaleX(0.9849);">0.3%</span>
</div>
<div class="grp" id="risk">
<span class="t" style="left:805.63px;top:11.52px;font-size:10.3px;color:#27225C;-webkit-text-stroke:0.22px #27225C;transform:scaleX(0.9734);">Risco Baixo</span>
<span class="t" style="left:943.83px;top:11.52px;font-size:10.3px;color:#27225C;-webkit-text-stroke:0.22px #27225C;transform:scaleX(0.9742);">Elevado Risco</span>
<span class="t" style="left:805.63px;top:49.02px;font-size:10.3px;color:#27225C;-webkit-text-stroke:0.22px #27225C;transform:scaleX(0.9945);">Remuneração</span>
<span class="t" style="left:805.63px;top:62.30px;font-size:10.3px;color:#27225C;-webkit-text-stroke:0.22px #27225C;transform:scaleX(1.0359);">potencialmente mais</span>
<span class="t" style="left:805.63px;top:75.91px;font-size:10.3px;color:#27225C;-webkit-text-stroke:0.22px #27225C;transform:scaleX(0.9961);">baixa</span>
<span class="t" style="left:942.13px;top:49.02px;font-size:10.3px;color:#27225C;-webkit-text-stroke:0.22px #27225C;">Remuneração</span>
<span class="t" style="left:908.53px;top:62.30px;font-size:10.3px;color:#27225C;-webkit-text-stroke:0.22px #27225C;transform:scaleX(1.0412);">potencialmente mais</span>
<span class="t" style="left:970.73px;top:75.91px;font-size:10.3px;color:#27225C;-webkit-text-stroke:0.22px #27225C;transform:scaleX(1.0014);">elevada</span>
<span class="t" style="left:820.34px;top:93.91px;font-size:11px;color:#555;-webkit-text-stroke:0.22px #555;transform:scaleX(0.8980);">1</span>
<span class="t" style="left:848.43px;top:93.91px;font-size:11px;color:#555;-webkit-text-stroke:0.22px #555;transform:scaleX(0.8980);">2</span>
<span class="t" style="left:876.52px;top:93.91px;font-size:11px;color:#1c1c1c;font-weight:700;transform:scaleX(0.9796);">3</span>
<span class="t" style="left:904.61px;top:93.91px;font-size:11px;color:#555;-webkit-text-stroke:0.22px #555;transform:scaleX(0.8980);">4</span>
<span class="t" style="left:932.70px;top:93.91px;font-size:11px;color:#555;-webkit-text-stroke:0.22px #555;transform:scaleX(0.8980);">5</span>
<span class="t" style="left:960.79px;top:93.91px;font-size:11px;color:#555;-webkit-text-stroke:0.22px #555;transform:scaleX(0.8980);">6</span>
<span class="t" style="left:988.88px;top:93.91px;font-size:11px;color:#555;-webkit-text-stroke:0.22px #555;transform:scaleX(0.8980);">7</span>
</div>
<div class="grp" id="pie">
<span class="t" style="left:736.14px;top:113.91px;font-size:12px;color:#27225C;font-weight:700;transform:scaleX(0.9523);">Repartição Ativos Físicos</span>
<span class="t" style="left:783.89px;top:152.41px;font-size:9.3px;color:#525057;-webkit-text-stroke:0.18px #525057;transform:scaleX(0.9069);">High Yield 8.0%</span>
<span class="t" style="left:748.99px;top:181.81px;font-size:9.3px;color:#525057;-webkit-text-stroke:0.18px #525057;transform:scaleX(0.8802);">Ações 12.1%</span>
<span class="t" style="left:749.29px;top:259.91px;font-size:9.3px;color:#525057;-webkit-text-stroke:0.18px #525057;transform:scaleX(0.9246);">Liquidez</span>
<span class="t" style="left:758.49px;top:271.00px;font-size:9.3px;color:#525057;-webkit-text-stroke:0.18px #525057;transform:scaleX(0.8656);">19.8%</span>
<span class="t" style="left:917.49px;top:316.31px;font-size:9.3px;color:#525057;-webkit-text-stroke:0.18px #525057;transform:scaleX(0.9110);">Investment Grade</span>
<span class="t" style="left:917.49px;top:328.20px;font-size:9.3px;color:#525057;-webkit-text-stroke:0.18px #525057;transform:scaleX(0.8732);">60.1%</span>
</div>
<div class="grp" id="bars">
<span class="t" style="left:735.74px;top:360.10px;font-size:12px;color:#27225C;font-weight:700;transform:scaleX(0.9865);">Rentabilidades por ano</span>
<span class="t" style="left:735.83px;top:385.40px;font-size:10.4px;color:#48464C;font-weight:700;">Categoria</span>
<span class="t" style="left:800.73px;top:385.40px;font-size:10.4px;color:#525057;-webkit-text-stroke:0.22px #525057;transform:scaleX(0.9859);">A</span>
<span class="t" style="left:822.23px;top:385.40px;font-size:10.4px;color:#525057;-webkit-text-stroke:0.22px #525057;transform:scaleX(0.8995);">B</span>
<span class="t" style="left:745.08px;top:560.51px;font-size:9.5px;color:#3A394E;-webkit-text-stroke:0.05px #3A394E;transform:scaleX(0.9626);">2015</span>
<span class="t" style="left:769.53px;top:560.51px;font-size:9.5px;color:#3A394E;-webkit-text-stroke:0.05px #3A394E;transform:scaleX(0.9626);">2016</span>
<span class="t" style="left:793.98px;top:560.51px;font-size:9.5px;color:#3A394E;-webkit-text-stroke:0.05px #3A394E;transform:scaleX(0.9626);">2017</span>
<span class="t" style="left:818.43px;top:560.51px;font-size:9.5px;color:#3A394E;-webkit-text-stroke:0.05px #3A394E;transform:scaleX(0.9626);">2018</span>
<span class="t" style="left:842.88px;top:560.51px;font-size:9.5px;color:#3A394E;-webkit-text-stroke:0.05px #3A394E;transform:scaleX(0.9626);">2019</span>
<span class="t" style="left:867.33px;top:560.51px;font-size:9.5px;color:#3A394E;-webkit-text-stroke:0.05px #3A394E;transform:scaleX(0.9626);">2020</span>
<span class="t" style="left:891.78px;top:560.51px;font-size:9.5px;color:#3A394E;-webkit-text-stroke:0.05px #3A394E;transform:scaleX(0.9626);">2021</span>
<span class="t" style="left:916.23px;top:560.51px;font-size:9.5px;color:#3A394E;-webkit-text-stroke:0.05px #3A394E;transform:scaleX(0.9626);">2022</span>
<span class="t" style="left:940.68px;top:560.51px;font-size:9.5px;color:#3A394E;-webkit-text-stroke:0.05px #3A394E;transform:scaleX(0.9626);">2023</span>
<span class="t" style="left:965.13px;top:560.51px;font-size:9.5px;color:#3A394E;-webkit-text-stroke:0.05px #3A394E;transform:scaleX(0.9626);">2024</span>
<span class="t" style="left:989.58px;top:560.51px;font-size:9.5px;color:#3A394E;-webkit-text-stroke:0.05px #3A394E;transform:scaleX(0.9626);">2025</span>
<span class="t" style="left:749.59px;top:490.61px;font-size:9.3px;color:#525057;-webkit-text-stroke:0.18px #525057;transform:scaleX(0.8985);">-2.0%</span>
<span class="t" style="left:775.39px;top:440.70px;font-size:9.3px;color:#525057;-webkit-text-stroke:0.18px #525057;transform:scaleX(0.8739);">3.6%</span>
<span class="t" style="left:799.79px;top:446.50px;font-size:9.3px;color:#525057;-webkit-text-stroke:0.18px #525057;transform:scaleX(0.8739);">2.4%</span>
<span class="t" style="left:823.24px;top:507.81px;font-size:9.3px;color:#525057;-webkit-text-stroke:0.18px #525057;transform:scaleX(0.8841);">-5.7%</span>
<span class="t" style="left:846.69px;top:408.81px;font-size:9.3px;color:#525057;-webkit-text-stroke:0.18px #525057;transform:scaleX(0.8618);">10.3%</span>
<span class="t" style="left:872.09px;top:490.61px;font-size:9.3px;color:#525057;-webkit-text-stroke:0.18px #525057;transform:scaleX(0.8820);">-2.0%</span>
<span class="t" style="left:897.79px;top:437.70px;font-size:9.3px;color:#525057;-webkit-text-stroke:0.18px #525057;transform:scaleX(0.8834);">4.1%</span>
<span class="t" style="left:918.09px;top:546.41px;font-size:9.3px;color:#525057;-webkit-text-stroke:0.18px #525057;transform:scaleX(0.8901);">-14.0%</span>
<span class="t" style="left:946.99px;top:439.00px;font-size:9.3px;color:#525057;-webkit-text-stroke:0.18px #525057;transform:scaleX(0.8739);">3.8%</span>
<span class="t" style="left:971.59px;top:433.41px;font-size:9.3px;color:#525057;-webkit-text-stroke:0.18px #525057;transform:scaleX(0.8551);">5.0%</span>
<span class="t" style="left:995.79px;top:455.61px;font-size:9.3px;color:#525057;-webkit-text-stroke:0.18px #525057;transform:scaleX(0.8598);">0.2%</span>
</div>
</body>
</html>
